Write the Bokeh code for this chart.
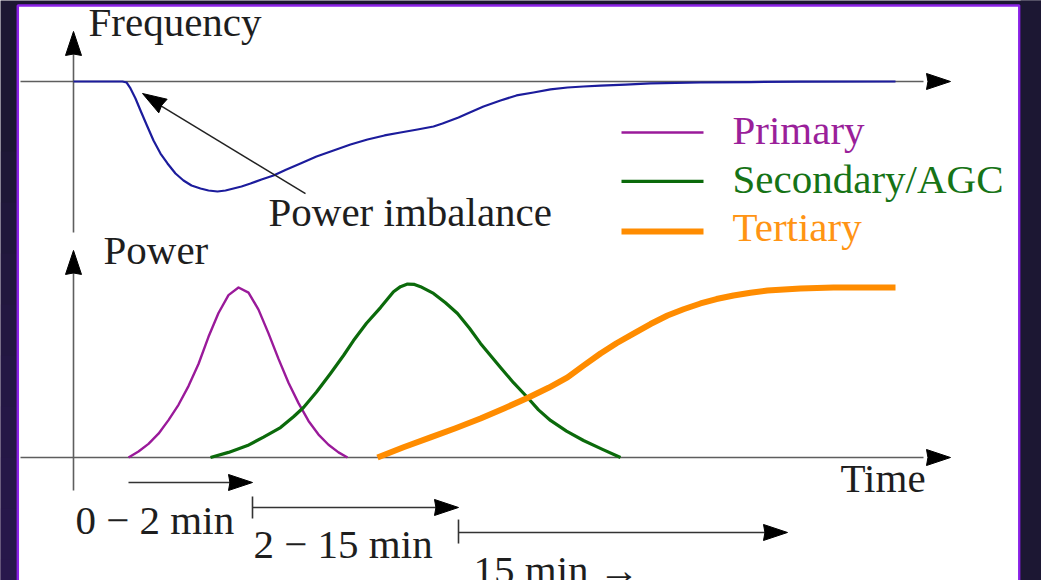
from bokeh.plotting import figure
from bokeh.models import Range1d, BoxAnnotation
from bokeh.core.properties import value
from bokeh.embed import file_html
from bokeh.resources import INLINE
import math

# ---------------- data (time in arbitrary units; frequency deviation / power in p.u.) ----------------
freq_t = [0.0, 4.9, 5.3, 5.7, 6.2, 6.7, 7.3, 8.0, 8.7, 9.4, 10.2, 11.0, 11.8, 12.7, 13.5, 14.4, 15.2, 16.0,
          16.8, 17.7, 18.8, 20.0, 21.3, 22.7, 24.3, 26.0, 27.7, 29.4, 31.1, 32.7, 34.4, 36.0, 36.9, 37.7,
          38.5, 39.4, 41.0, 42.7, 44.3, 46.0, 47.7, 49.4, 51.0, 52.7, 55.2, 57.7, 62.7, 67.7, 72.7, 82.2]
freq_v = [0.0, 0.0, -0.009, -0.064, -0.156, -0.266, -0.394, -0.541, -0.661, -0.752, -0.844, -0.908, -0.954,
          -0.982, -1.0, -1.009, -1.0, -0.982, -0.963, -0.936, -0.899, -0.862, -0.807, -0.752, -0.688, -0.633,
          -0.578, -0.532, -0.495, -0.468, -0.440, -0.413, -0.385, -0.358, -0.330, -0.294, -0.229, -0.174,
          -0.128, -0.101, -0.073, -0.055, -0.046, -0.037, -0.028, -0.018, -0.009, -0.005, -0.002, 0.0]

primary_t = [5.5, 6.5, 7.5, 8.5, 9.5, 10.5, 11.5, 12.5, 13.5, 14.5, 15.5, 16.5, 17.5, 18.5, 19.5, 20.5,
             21.5, 22.5, 23.5, 24.5, 25.5, 26.5, 27.4]
primary_p = [0.0, 0.035, 0.08, 0.14, 0.22, 0.31, 0.42, 0.55, 0.71, 0.85, 0.955, 1.0, 0.97, 0.87, 0.73, 0.58,
             0.44, 0.32, 0.215, 0.135, 0.075, 0.03, 0.0]

secondary_t = [13.7, 15.5, 17.4, 19.0, 20.7, 22.0, 23.0, 24.3, 25.7, 27.0, 28.0, 29.3, 30.7, 32.0, 32.7,
               33.4, 34.1, 34.7, 36.0, 37.2, 38.4, 39.6, 40.7, 41.7, 42.7, 44.0, 45.4, 46.5, 47.7, 49.3,
               51.0, 52.9, 54.7]
secondary_p = [0.0, 0.03, 0.07, 0.12, 0.176, 0.24, 0.294, 0.385, 0.494, 0.60, 0.688, 0.79, 0.882, 0.975,
               1.005, 1.02, 1.018, 1.005, 0.965, 0.91, 0.847, 0.76, 0.671, 0.60, 0.529, 0.44, 0.353, 0.28,
               0.218, 0.155, 0.10, 0.048, 0.0]

tertiary_t = [30.4, 33.0, 35.7, 38.2, 40.7, 43.1, 45.5, 47.5, 49.4, 51.0, 52.7, 54.3, 56.0, 57.7, 59.4,
              61.0, 62.7, 64.3, 66.0, 67.7, 69.4, 72.7, 76.0, 82.2]
tertiary_p = [0.0, 0.06, 0.118, 0.172, 0.229, 0.29, 0.353, 0.41, 0.471, 0.54, 0.612, 0.672, 0.729, 0.785,
              0.835, 0.872, 0.906, 0.932, 0.953, 0.969, 0.982, 0.994, 1.0, 1.0]

legend_labels = ["Primary", "Secondary/AGC", "Tertiary"]
interval_labels = ["0 \u2212 2 min", "2 \u2212 15 min", "15 min \u2192"]
interval_edges = [5.5, 17.9, 38.5, 71.4]

# ---------------- styling ----------------
C_BLUE = "#1c1c9c"
C_PURPLE = "#9a1a9a"
C_GREEN = "#0b6a0b"
C_ORANGE = "#ff8c00"
C_AXIS = "#5e5e5e"
C_TEXT = "#1e1e1e"
C_BG = "#1c1733"
C_BORDER = "#8a22e6"
FONT = value("Liberation Serif")
FS = "41px"

SX = 10.0    # px per time unit
SP = 170.0   # px per power unit
SF = 109.0   # px per frequency unit

p = figure(width=1041, height=580, output_backend="svg", toolbar_location=None,
           x_axis_location=None, y_axis_location=None,
           x_range=Range1d(-7.3, 96.8), y_range=Range1d(-0.7235, 2.6882),
           min_border_left=0, min_border_right=0, min_border_top=0, min_border_bottom=0)
p.extra_y_ranges = {"freq": Range1d(-4.578, 0.7431)}
p.grid.visible = False
p.background_fill_color = C_BG
p.border_fill_color = C_BG
p.outline_line_color = None

# slight purple glow on the left strip
for k in range(9):
    p.add_layout(BoxAnnotation(left=-20, right=-5.7, top=1.8 - 0.3 * k, bottom=-5,
                               fill_color="#2f1b58", fill_alpha=0.12, line_color=None, level="underlay"))
# white panel with violet border
p.add_layout(BoxAnnotation(left=-5.57, right=94.58, top=2.659, bottom=-5, fill_color="white", fill_alpha=1.0,
                           line_color=C_BORDER, line_width=2.5, line_alpha=1.0, level="underlay"))


def head(tip_x, tip_y, ux, uy, s, L=24.0, W=8.0):
    """triangular arrowhead; direction (ux,uy) in screen px space (y up)."""
    n = math.hypot(ux, uy)
    ux, uy = ux / n, uy / n
    X, Y = tip_x * SX, tip_y * s
    bx, by = X - L * ux, Y - L * uy
    nx, ny = -uy, ux
    xs = [X, bx + W * nx, bx + 0.06 * L * ux, bx - W * nx]
    ys = [Y, by + W * ny, by + 0.06 * L * uy, by - W * ny]
    return [v / SX for v in xs], [v / s for v in ys]


# ---------------- frequency panel ----------------
p.line([-5.3, 85.0], [0, 0], y_range_name="freq", line_color=C_AXIS, line_width=1.6)
p.line([0, 0], [-1.385, 0.40], y_range_name="freq", line_color=C_AXIS, line_width=1.6)
hx, hy = head(87.7, 0.0, 1, 0, SF)
p.patch(hx, hy, y_range_name="freq", color="black")
hx, hy = head(0.0, 0.459, 0, 1, SF)
p.patch(hx, hy, y_range_name="freq", color="black")
p.line(freq_t, freq_v, y_range_name="freq", line_color=C_BLUE, line_width=2.2, line_join="round")

# annotation arrow
p.line([23.2, 8.5], [-1.028, -0.21], y_range_name="freq", line_color="#222222", line_width=1.5)
hx, hy = head(6.9, -0.110, (6.9 - 23.2) * SX, (-0.110 + 1.028) * SF, SF)
p.patch(hx, hy, y_range_name="freq", color="black")

p.text(x=[1.5, 19.5], y=[0.55, -1.193], text=["Frequency", "Power imbalance"], y_range_name="freq",
       text_font=FONT, text_font_size=FS, text_color=C_TEXT, text_baseline="alphabetic")

# ---------------- power panel ----------------
p.line([-5.3, 85.0], [0, 0], line_color=C_AXIS, line_width=1.6)
p.line([0, 0], [-0.194, 1.10], line_color=C_AXIS, line_width=1.6)
hx, hy = head(87.7, 0.0, 1, 0, SP)
p.patch(hx, hy, color="black")
hx, hy = head(0.0, 1.218, 0, 1, SP)
p.patch(hx, hy, color="black")

p.line(primary_t, primary_p, line_color=C_PURPLE, line_width=2.4, line_join="round")
p.line(secondary_t, secondary_p, line_color=C_GREEN, line_width=3.2, line_join="round")
p.line(tertiary_t, tertiary_p, line_color=C_ORANGE, line_width=6, line_cap="butt", line_join="round")

# legend
leg_y_line = [1.912, 1.624, 1.329]
leg_y_text = [1.924, 1.636, 1.353]
leg_colors = [C_PURPLE, C_GREEN, C_ORANGE]
leg_widths = [2.4, 3.2, 6]
for yl, c, w in zip(leg_y_line, leg_colors, leg_widths):
    p.line([54.8, 63.0], [yl, yl], line_color=c, line_width=w)
p.text(x=[65.9] * 3, y=leg_y_text, text=legend_labels, text_color=["#9a1f9a", "#167316", "#ff9414"],
       text_font=FONT, text_font_size=FS, text_baseline="alphabetic")

p.text(x=[3.0, 76.7], y=[1.218, -0.123], text=["Power", "Time"], text_font=FONT,
       text_font_size=FS, text_color=C_TEXT, text_baseline="alphabetic")

# time interval arrows
arrow_y = [-0.147, -0.294, -0.441]
bar_y = [None, (-0.229, -0.359), (-0.365, -0.506)]
for i in range(3):
    x0, x1 = interval_edges[i], interval_edges[i + 1]
    p.line([x0, x1 - 1.5], [arrow_y[i], arrow_y[i]], line_color="#333333", line_width=1.6)
    hx, hy = head(x1, arrow_y[i], 1, 0, SP)
    p.patch(hx, hy, color="black")
    if bar_y[i] is not None:
        p.line([x0, x0], list(bar_y[i]), line_color="#333333", line_width=1.6)

p.text(x=[0.2, 18.0, 40.0], y=[-0.370, -0.511, -0.664], text=interval_labels, text_font=FONT,
       text_font_size=FS, text_color=C_TEXT, text_baseline="alphabetic")

# hide text running past the panel's right edge
p.add_layout(BoxAnnotation(left=94.72, right=200, top=10, bottom=-10, fill_color=C_BG, fill_alpha=1.0,
                           line_color=None, level="overlay"))

open("out.html", "w").write(file_html(p, INLINE))
